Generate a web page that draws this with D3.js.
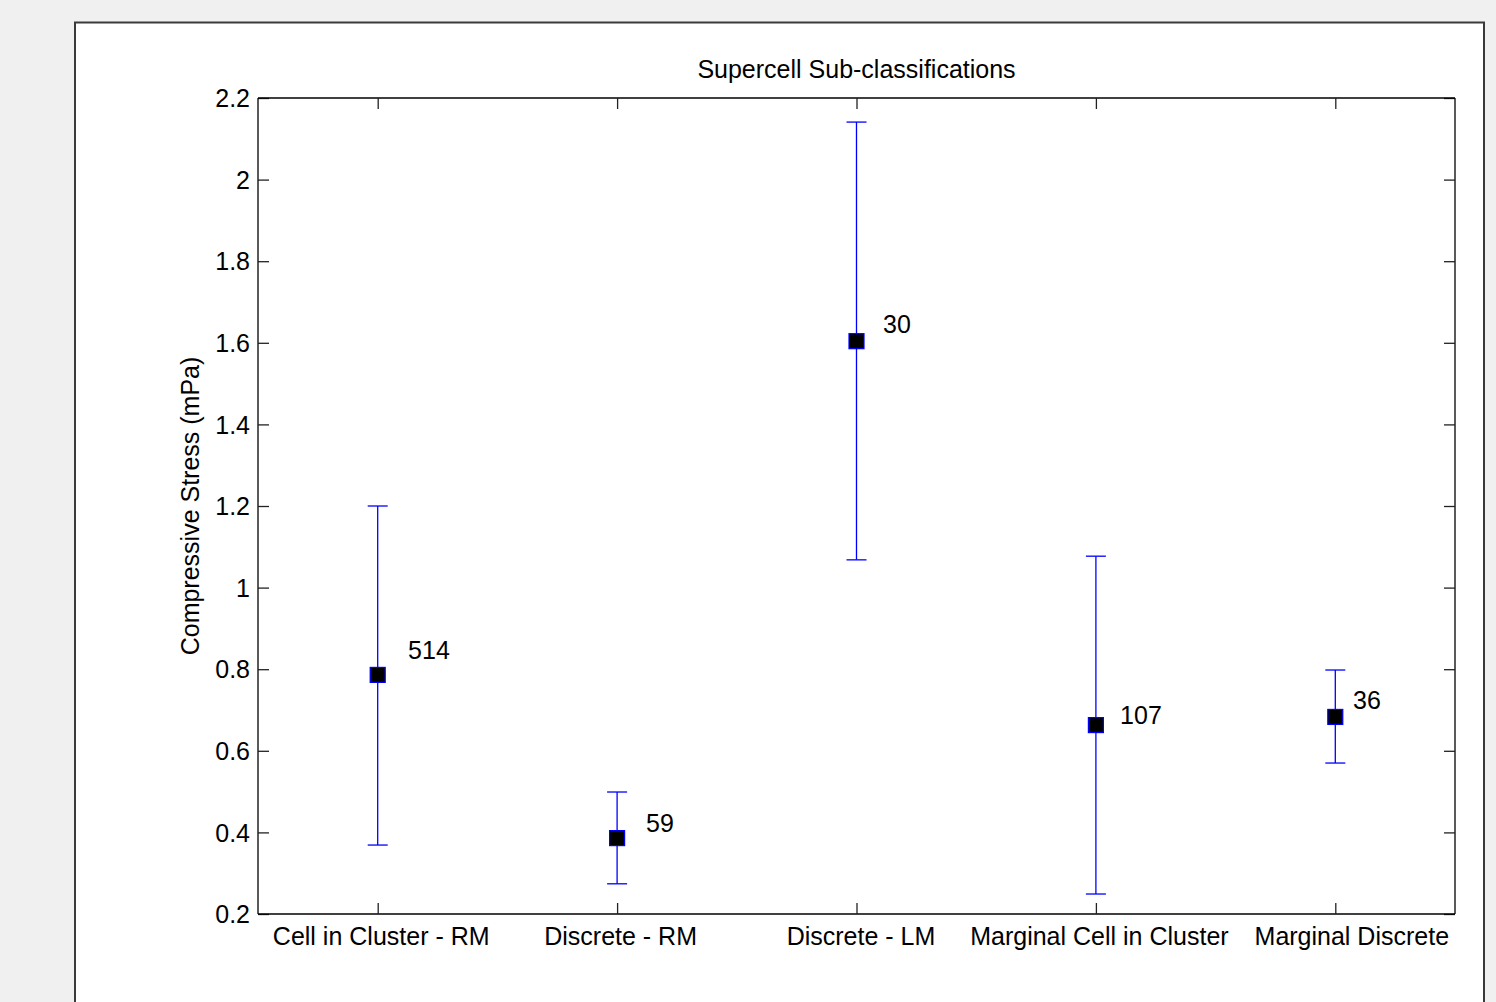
<!DOCTYPE html>
<html><head><meta charset="utf-8">
<script src="https://cdn.jsdelivr.net/npm/d3@7"></script>
<style>
html,body{margin:0;padding:0;background:#f0f0f0;}
svg{display:block;}
text{font-family:"Liberation Sans",Arial,sans-serif;fill:#000;}
</style></head>
<body>
<svg id="chart" width="1496" height="1002"></svg>
<script>
const categories = ["Cell in Cluster - RM","Discrete - RM","Discrete - LM","Marginal Cell in Cluster","Marginal Discrete"];
const means = [0.786, 0.386, 1.604, 0.663, 0.683];
const upper = [1.200, 0.499, 2.141, 1.077, 0.798];
const lower = [0.369, 0.274, 1.068, 0.249, 0.570];
const counts = ["514","59","30","107","36"];
const labelX = [1.127, 2.121, 3.111, 4.101, 5.074];
const labelY = [0.847, 0.423, 1.646, 0.688, 0.724];
const yTicks = [0.2,0.4,0.6,0.8,1,1.2,1.4,1.6,1.8,2,2.2];
const titleText = "Supercell Sub-classifications";
const yLabelText = "Compressive Stress (mPa)";

const svg = d3.select("#chart");
const L = 258, R = 1455, T = 98, B = 914;
const FS = 25;
const catShift = [3, 3, 4, 3, 16];

// figure panel
svg.append("rect").attr("x",75).attr("y",22.5).attr("width",1409).attr("height",1000)
  .attr("fill","#fff").attr("stroke","#3a3a3a").attr("stroke-width",2);

const x = d3.scaleLinear().domain([0.5, categories.length + 0.5]).range([L, R]);
const y = d3.scaleLinear().domain([0.2, 2.2]).range([B, T]);

const tickLen = 11;
const gL = svg.append("g").attr("transform",`translate(${L},0)`)
  .call(d3.axisLeft(y).tickValues(yTicks).tickSizeInner(-tickLen).tickSizeOuter(0).tickPadding(8).tickFormat(d3.format("~g")));
const gR = svg.append("g").attr("transform",`translate(${R},0)`)
  .call(d3.axisRight(y).tickValues(yTicks).tickSizeInner(-tickLen).tickSizeOuter(0).tickFormat(""));
const gB = svg.append("g").attr("transform",`translate(0,${B})`)
  .call(d3.axisBottom(x).tickValues(d3.range(1,categories.length+1)).tickSizeInner(-tickLen).tickSizeOuter(0).tickPadding(10).tickFormat(d=>categories[d-1]));
const gT = svg.append("g").attr("transform",`translate(0,${T})`)
  .call(d3.axisTop(x).tickValues(d3.range(1,categories.length+1)).tickSizeInner(-tickLen).tickSizeOuter(0).tickFormat(""));
[gL,gR,gB,gT].forEach(g=>{
  g.selectAll("path.domain").attr("stroke","#000").attr("stroke-width",1.3);
  g.selectAll(".tick line").attr("stroke","#222").attr("stroke-width",1.3);
  g.selectAll(".tick text").attr("font-size",FS).attr("font-family","Liberation Sans, Arial, sans-serif").attr("fill","#000");
});
gL.selectAll(".tick text").attr("dy","0.35em");
gB.selectAll(".tick text").attr("dy","0.85em").attr("dx",(d,i)=>catShift[i]);
gL.select("path.domain").attr("d",`M0,${T}V${B}`);
gB.select("path.domain").attr("d",`M${L},0H${R}`);
gR.select("path.domain").attr("d",`M0,${T}V${B}`);
gT.select("path.domain").attr("d",`M${L},0H${R}`);

const idx = d3.range(categories.length);
const cap = 10;
const eb = svg.append("g").attr("stroke","#0000ff").attr("stroke-width",1.3).attr("fill","none");
eb.selectAll("line.v").data(idx).join("line")
  .attr("x1",i=>x(i+1)).attr("x2",i=>x(i+1)).attr("y1",i=>y(lower[i])).attr("y2",i=>y(upper[i]));
eb.selectAll("line.u").data(idx).join("line")
  .attr("x1",i=>x(i+1)-cap).attr("x2",i=>x(i+1)+cap).attr("y1",i=>y(upper[i])).attr("y2",i=>y(upper[i]));
eb.selectAll("line.l").data(idx).join("line")
  .attr("x1",i=>x(i+1)-cap).attr("x2",i=>x(i+1)+cap).attr("y1",i=>y(lower[i])).attr("y2",i=>y(lower[i]));

const ms = 15;
svg.append("g").selectAll("rect").data(idx).join("rect")
  .attr("x",i=>x(i+1)-ms/2).attr("y",i=>y(means[i])-ms/2).attr("width",ms).attr("height",ms)
  .attr("fill","#000").attr("stroke","#0000ff").attr("stroke-width",1.2);

svg.append("g").selectAll("text").data(idx).join("text")
  .attr("x",i=>x(labelX[i])).attr("y",i=>y(labelY[i])).attr("dy","0.35em")
  .attr("font-size",FS).text(i=>counts[i]);

svg.append("text").attr("x",(L+R)/2).attr("y",T-20).attr("text-anchor","middle")
  .attr("font-size",FS).text(titleText);

svg.append("text").attr("transform",`translate(199,${(T+B)/2}) rotate(-90)`).attr("text-anchor","middle")
  .attr("font-size",FS).text(yLabelText);
</script>
</body></html>
